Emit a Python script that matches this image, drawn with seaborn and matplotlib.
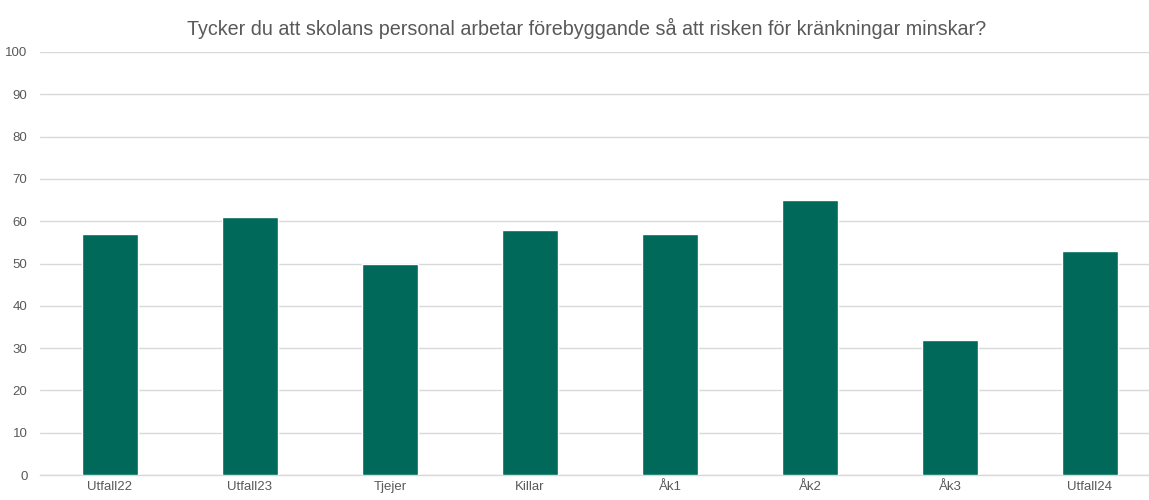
import matplotlib
matplotlib.use('Agg')
import matplotlib.pyplot as plt
import seaborn as sns
import pandas as pd

# ─── Data ─────────────────────────────────────────────────────────────────────
categories = ['Utfall22', 'Utfall23', 'Tjejer', 'Killar', 'Åk1', 'Åk2', 'Åk3', 'Utfall24']
values = [57, 61, 50, 58, 57, 65, 32, 53]
y_ticks = list(range(0, 101, 10))
title = "Tycker du att skolans personal arbetar förebyggande så att risken för kränkningar minskar?"

BAR_COLOR = '#00695A'
TEXT_COLOR = '#595959'
GRID_COLOR = '#d9d9d9'

sns.set_style('white')
plt.rcParams['font.family'] = ['Liberation Sans', 'DejaVu Sans']

df = pd.DataFrame({'kategori': categories, 'andel': values})

fig = plt.figure(figsize=(11.49, 5.0), dpi=100)
ax = fig.add_axes([40 / 1149, 25 / 500, 1109 / 1149, 423 / 500])

sns.barplot(data=df, x='kategori', y='andel', color=BAR_COLOR, width=0.4,
            saturation=1, ax=ax, zorder=3)

ax.set_ylim(0, 100)
ax.set_xlim(-0.5, 1109 / 140 - 0.5)
ax.set_yticks(y_ticks)
ax.yaxis.grid(True, color=GRID_COLOR, linewidth=1, zorder=0)
ax.set_axisbelow(True)
for side in ['top', 'right', 'left']:
    ax.spines[side].set_visible(False)
ax.spines['bottom'].set_color(GRID_COLOR)
ax.spines['bottom'].set_linewidth(1)
ax.tick_params(axis='both', length=0, colors=TEXT_COLOR, labelsize=9.5)
ax.tick_params(axis='y', pad=9)
ax.tick_params(axis='x', pad=4)
ax.set_xlabel('')
ax.set_ylabel('')

fig.text(587 / 1149, 1 - 28 / 500, title, ha='center', va='center',
         fontsize=14.2, color=TEXT_COLOR)

fig.savefig('out.png', dpi=100)
plt.close(fig)
